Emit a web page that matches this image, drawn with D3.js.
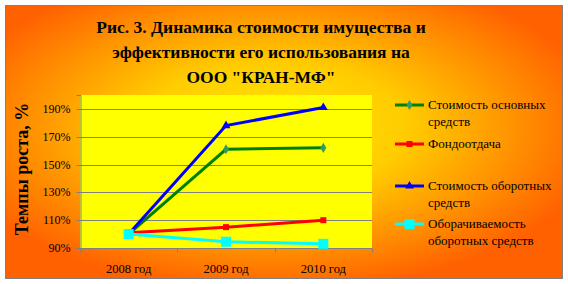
<!DOCTYPE html>
<html>
<head>
<meta charset="utf-8">
<script src="https://cdn.jsdelivr.net/npm/d3@7"></script>
<style>
  body { margin: 0; background: #fff; }
  svg text { font-family: "Liberation Serif", "Times New Roman", "DejaVu Serif", serif; }
</style>
</head>
<body>
<div id="chart"></div>
<script>
const years = ['2008 год', '2009 год', '2010 год'];
const fixedAssets = [100, 161, 162];      // Стоимость основных средств
const assetReturn = [101, 105, 110];      // Фондоотдача
const currentAssets = [100, 178, 191];    // Стоимость оборотных средств
const turnover = [100, 94.5, 93];         // Оборачиваемость оборотных средств
const yTicks = [90, 110, 130, 150, 170, 190];
const titleLines = ['Рис. 3. Динамика стоимости имущества и', 'эффективности его использования на', 'ООО "КРАН-МФ"'];

const series = [
  {name: ['Стоимость основных', 'средств'], values: fixedAssets, color: '#008000', marker: 'diamond', size: 6},
  {name: ['Фондоотдача'], values: assetReturn, color: '#ff0000', marker: 'square', size: 6},
  {name: ['Стоимость оборотных', 'средств'], values: currentAssets, color: '#0000ff', marker: 'triangle', size: 7},
  {name: ['Оборачиваемость', 'оборотных средств'], values: turnover, color: '#00ffff', marker: 'square', size: 10}
];

const serif = '"Liberation Serif", "Times New Roman", "DejaVu Serif", serif';
const width = 568, height = 284;
const margin = {top: 95, right: 196, bottom: 36, left: 80};

const svg = d3.select('#chart')
  .append('svg')
  .attr('width', width)
  .attr('height', height)
  .attr('font-family', serif);

const defs = svg.append('defs');
const grad = defs.append('radialGradient')
  .attr('id', 'bg')
  .attr('cx', '48%').attr('cy', '45%').attr('r', '60%');
grad.append('stop').attr('offset', '0%').attr('stop-color', '#ffe800');
grad.append('stop').attr('offset', '40%').attr('stop-color', '#ffcc00');
grad.append('stop').attr('offset', '100%').attr('stop-color', '#ff6000');

// Chart area
svg.append('rect')
  .attr('x', 5.5).attr('y', 5.5)
  .attr('width', 557).attr('height', 273)
  .attr('fill', 'url(#bg)')
  .attr('stroke', '#808080');

const x = d3.scaleBand()
  .domain(years)
  .range([margin.left, width - margin.right]);

const y = d3.scaleLinear()
  .domain([90, 200])
  .range([height - margin.bottom, margin.top]);

// Plot area
svg.append('rect')
  .attr('x', margin.left).attr('y', margin.top)
  .attr('width', x.range()[1] - margin.left)
  .attr('height', y(90) - margin.top)
  .attr('fill', '#ffff00');

// Grid lines
svg.append('g')
  .selectAll('line')
  .data(yTicks.slice(1))
  .join('line')
  .attr('x1', margin.left).attr('x2', x.range()[1])
  .attr('y1', d => Math.round(y(d)) + 0.5).attr('y2', d => Math.round(y(d)) + 0.5)
  .attr('stroke', '#808080');

// Y axis
svg.append('g')
  .attr('transform', `translate(${margin.left + 0.5},0)`)
  .call(d3.axisLeft(y).tickValues(yTicks).tickSize(4).tickPadding(6).tickFormat(d => d + '%'))
  .attr('font-family', serif)
  .call(g => g.selectAll('.tick').attr('transform', d => `translate(0,${Math.round(y(d)) + 0.5})`))
  .call(g => g.select('.domain').attr('stroke', '#808080'))
  .call(g => g.selectAll('.tick line').attr('stroke', '#808080'))
  .call(g => g.selectAll('text').attr('font-size', 12).attr('fill', '#000'));

// X axis
const xAxis = svg.append('g')
  .attr('transform', `translate(0,${Math.round(y(90)) + 0.5})`);
xAxis.append('line')
  .attr('x1', margin.left).attr('x2', x.range()[1])
  .attr('stroke', '#808080');
xAxis.selectAll('.tk')
  .data([...years.map(d => x(d)), x.range()[1]])
  .join('line')
  .attr('class', 'tk')
  .attr('x1', d => Math.round(d) + 0.5).attr('x2', d => Math.round(d) + 0.5)
  .attr('y1', 0).attr('y2', 4)
  .attr('stroke', '#808080');
xAxis.selectAll('text')
  .data(years)
  .join('text')
  .attr('x', d => x(d) + x.bandwidth() / 2)
  .attr('y', 24)
  .attr('text-anchor', 'middle')
  .attr('font-size', 12.5)
  .text(d => d);

// Title
svg.append('g')
  .selectAll('text')
  .data(titleLines)
  .join('text')
  .attr('x', 261)
  .attr('y', (d, i) => 33 + i * 25)
  .attr('text-anchor', 'middle')
  .attr('font-size', 17.5)
  .attr('font-weight', 'bold')
  .text(d => d);

// Y axis title
svg.append('text')
  .attr('transform', 'translate(28,169) rotate(-90)')
  .attr('text-anchor', 'middle')
  .attr('font-size', 18)
  .attr('font-weight', 'bold')
  .text('Темпы роста, %');

const cx = d => x(d) + x.bandwidth() / 2;

function marker(sel, s) {
  if (s.marker === 'diamond') {
    sel.append('path').attr('d', d3.symbol(d3.symbolDiamond, 30)()).attr('fill', '#339966');
  } else if (s.marker === 'triangle') {
    sel.append('path').attr('d', d3.symbol(d3.symbolTriangle, 34)()).attr('fill', s.color);
  } else {
    sel.append('rect')
      .attr('x', -s.size / 2).attr('y', -s.size / 2)
      .attr('width', s.size).attr('height', s.size)
      .attr('fill', s.color);
  }
}

const line = d3.line()
  .x((d, i) => cx(years[i]))
  .y(d => y(d));

series.forEach(s => {
  const g = svg.append('g');
  g.append('path')
    .attr('d', line(s.values))
    .attr('fill', 'none')
    .attr('stroke', s.color)
    .attr('stroke-width', 3);
  s.values.forEach((v, i) => {
    g.append('g')
      .attr('transform', `translate(${cx(years[i])},${y(v)})`)
      .call(sel => marker(sel, s));
  });
});

// Legend
const legendY = [105, 144, 186, 224];
const legend = svg.append('g')
  .selectAll('g')
  .data(series)
  .join('g')
  .attr('transform', (d, i) => `translate(395,${legendY[i]})`);
legend.append('line')
  .attr('x1', 0).attr('x2', 29)
  .attr('stroke', d => d.color)
  .attr('stroke-width', 3);
legend.append('g')
  .attr('transform', 'translate(14.5,0)')
  .each(function(d) { marker(d3.select(this), d); });
legend.append('text')
  .attr('x', 33)
  .attr('font-size', 13)
  .selectAll('tspan')
  .data(d => d.name)
  .join('tspan')
  .attr('x', 33)
  .attr('y', (d, i) => 4 + i * 17)
  .text(d => d);
</script>
</body>
</html>
